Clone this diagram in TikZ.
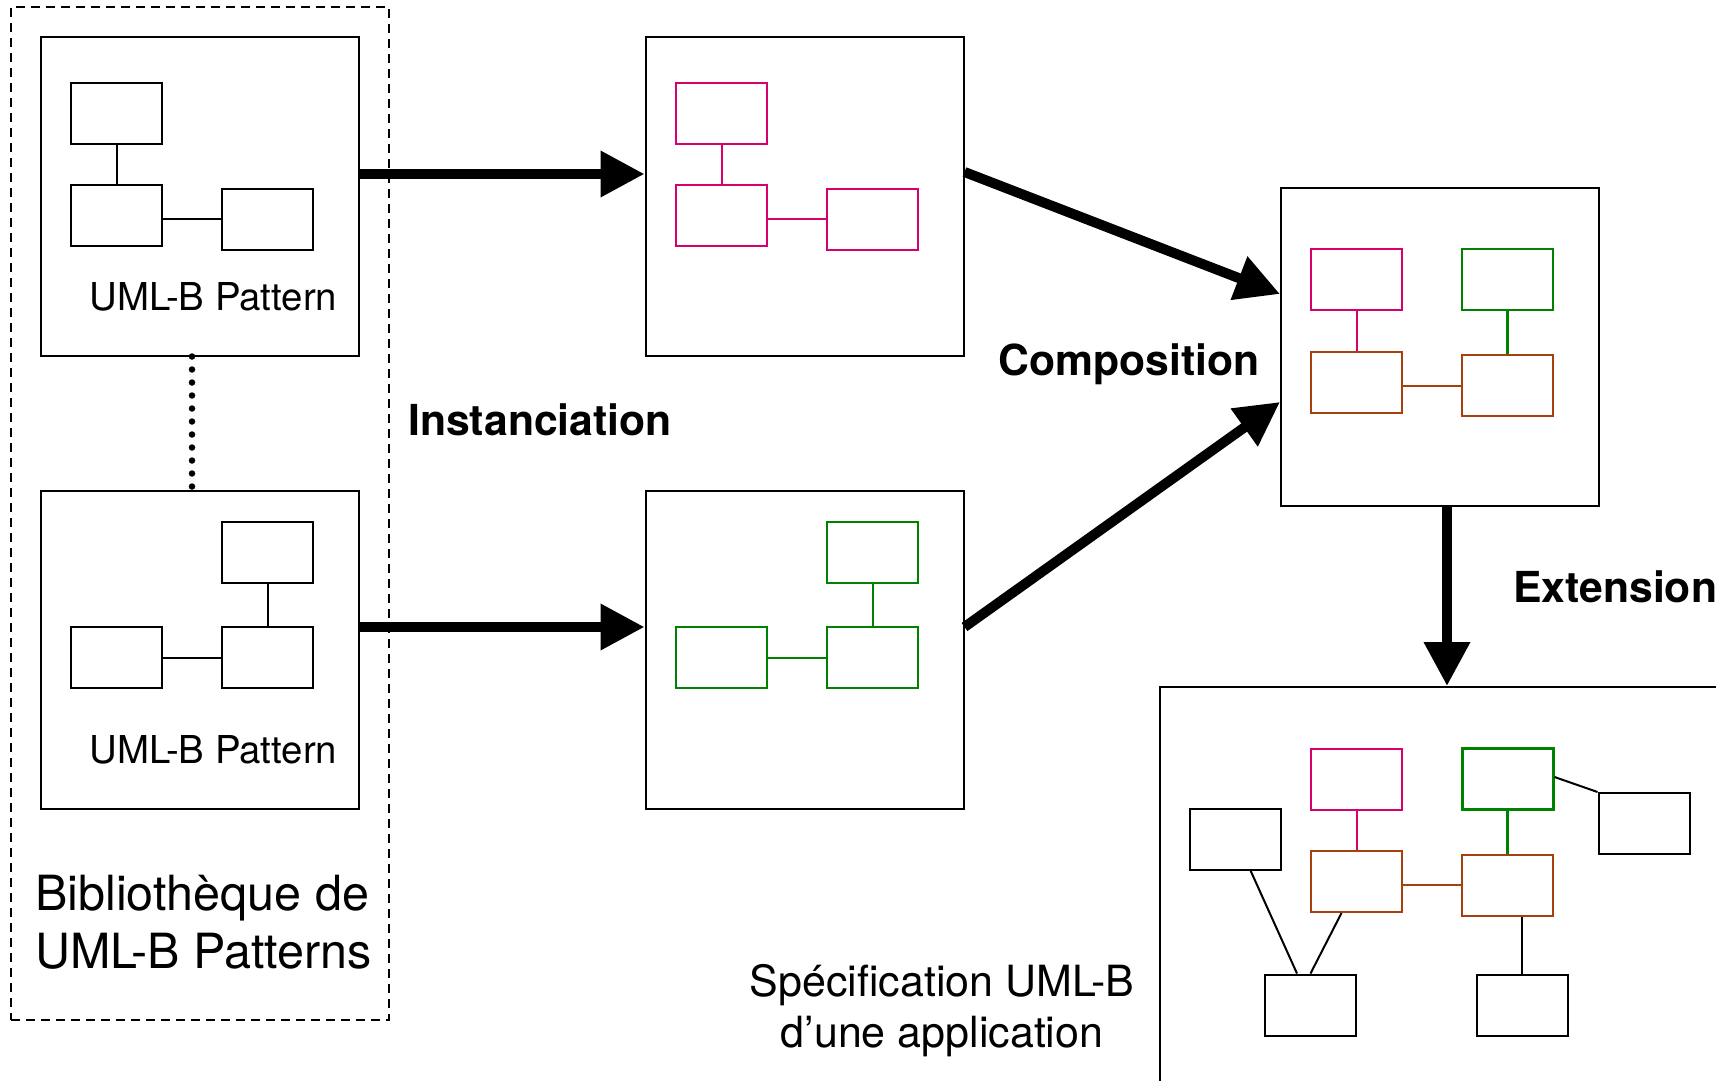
\documentclass[tikz,border=0pt]{standalone}
\usepackage{fontspec}
\setmainfont{TeX Gyre Heros}
\usetikzlibrary{arrows.meta}
\definecolor{pinkc}{RGB}{214,0,110}
\definecolor{greenc}{RGB}{0,130,0}
\definecolor{brownc}{RGB}{165,65,15}
\tikzset{
  frame/.style={draw, line width=2pt, minimum width=318pt, minimum height=318pt, inner sep=0pt},
  cls/.style={draw, line width=2pt, minimum width=91pt, minimum height=61pt, inner sep=0pt},
  link/.style={line width=2pt},
  bigarrow/.style={line width=10pt, -{Triangle[length=44pt,width=44pt]}},
  plain/.style={font=\fontsize{38.4}{46}\selectfont, inner sep=0pt},
  big/.style={font=\fontsize{48.5}{58}\selectfont, inner sep=0pt},
  spec/.style={font=\fontsize{43}{50}\selectfont, inner sep=0pt},
  heading/.style={font=\fontsize{42.7}{50}\selectfont\bfseries, inner sep=0pt},
}
\begin{document}
\begin{tikzpicture}[x=1pt,y=-1pt]
\useasboundingbox (0,0) rectangle (1716,1081);
\clip (0,0) rectangle (1716,1081);
\fill[white] (0,0) rectangle (1716,1081);

% library of patterns (dashed frame)
\node[draw, dash pattern=on 9pt off 6pt, line width=2pt, minimum width=378pt, minimum height=1013pt, inner sep=0pt] (lib) at (200,513.5) {};
\node[big, anchor=base west] (lib1) at (35,910) {Bibliothèque de};
\node[big, anchor=base west] (lib2) at (35,968) {UML-B Patterns};

% pattern 1
\node[frame] (P1) at (199.5,196.5) {};
\node[cls] (p1a) at (116.5,113) {};
\node[cls] (p1b) at (116.5,215.5) {};
\node[cls] (p1c) at (267.5,219) {};
\draw[link] (p1a.south) -- (p1a.south |- p1b.north);
\draw[link] (p1b.east |- p1c.west) -- (p1c.west);
\node[plain, anchor=base] (t1) at (213.5,310) {UML-B Pattern};

% pattern 2
\node[frame] (P2) at (199.5,650) {};
\node[cls] (p2a) at (267.5,552) {};
\node[cls] (p2b) at (116.5,657.5) {};
\node[cls] (p2c) at (267.5,657.5) {};
\draw[link] (p2a.south) -- (p2c.north);
\draw[link] (p2b.east) -- (p2c.west);
\node[plain, anchor=base] (t2) at (213.5,763) {UML-B Pattern};

\draw[line width=6.5pt, line cap=round, dash pattern=on 0pt off 13pt] ([xshift=-7.5pt]P1.south) -- ([xshift=-7.5pt]P2.north);

% instance 1 (pink)
\node[frame] (I1) at (804.5,196.5) {};
\node[cls, pinkc] (i1a) at (721.5,113) {};
\node[cls, pinkc] (i1b) at (721.5,215.5) {};
\node[cls, pinkc] (i1c) at (872.5,219) {};
\draw[link, pinkc] (i1a.south) -- (i1a.south |- i1b.north);
\draw[link, pinkc] (i1b.east |- i1c.west) -- (i1c.west);

% instance 2 (green)
\node[frame] (I2) at (804.5,650) {};
\node[cls, greenc] (i2a) at (872.5,552) {};
\node[cls, greenc] (i2b) at (721.5,657.5) {};
\node[cls, greenc] (i2c) at (872.5,657.5) {};
\draw[link, greenc] (i2a.south) -- (i2c.north);
\draw[link, greenc] (i2b.east) -- (i2c.west);

% composition
\node[frame] (C) at (1440,347) {};
\node[cls, pinkc] (cp) at (1356.5,279.5) {};
\node[cls, greenc] (cg) at (1507.5,279.5) {};
\node[cls, brownc] (cbl) at (1356.5,382) {};
\node[cls, brownc] (cbr) at (1507.5,385.5) {};
\draw[link, pinkc] (cp.south) -- (cbl.north);
\draw[link, greenc, line width=3pt] (cg.south) -- (cbr.north);
\draw[link, brownc] (cbl.east |- cbr.west) -- (cbr.west);

% extension
\node[draw, line width=2pt, minimum width=620pt, minimum height=440pt, inner sep=0pt] (E) at (1470,907) {};
\node[cls, pinkc] (ep) at (1356.5,779) {};
\node[cls, greenc, line width=3pt] (eg) at (1507.5,779) {};
\node[cls, brownc] (ebl) at (1356.5,881.5) {};
\node[cls, brownc] (ebr) at (1507.5,885) {};
\node[cls] (el) at (1235.5,839) {};
\node[cls] (etr) at (1644,823.5) {};
\node[cls] (ebot1) at (1310.5,1005) {};
\node[cls] (ebot2) at (1522,1005) {};
\draw[link, pinkc] (ep.south) -- (ebl.north);
\draw[link, greenc, line width=3pt] (eg.south) -- (ebr.north);
\draw[link, brownc] (ebl.east |- ebr.west) -- (ebr.west);
\draw[link] ([xshift=15pt]el.south) -- ([xshift=-13.5pt]ebot1.north);
\draw[link] ([xshift=-15pt]ebl.south) -- (ebot1.north);
\draw[link] (ebot2.north |- ebr.south) -- (ebot2.north);
\draw[link] ([yshift=2pt]eg.east) -- (etr.north west);
\node[spec, anchor=base] (s1) at (942,996) {Spécification UML-B};
\node[spec, anchor=base] (s2) at (942,1047) {d’une application};

% transformations
\draw[bigarrow] ([yshift=22.5pt]P1.east) -- ([yshift=22.5pt]I1.west);
\draw[bigarrow] ([yshift=23pt]P2.east) -- ([yshift=23pt]I2.west);
\draw[bigarrow] ([yshift=24.5pt]I1.east) -- ([yshift=53pt]C.west);
\draw[bigarrow] ([yshift=23pt]I2.east) -- ([yshift=-55pt]C.west);
\draw[bigarrow] ([xshift=7pt]C.south) -- ([xshift=7pt]C.south |- E.north);

\node[heading, anchor=base west] (lInst) at (408,435) {Instanciation};
\node[heading, anchor=base west] (lComp) at (998,375) {Composition};
\node[heading, anchor=base west] (lExt) at (1513,602) {Extension};
\end{tikzpicture}
\end{document}
